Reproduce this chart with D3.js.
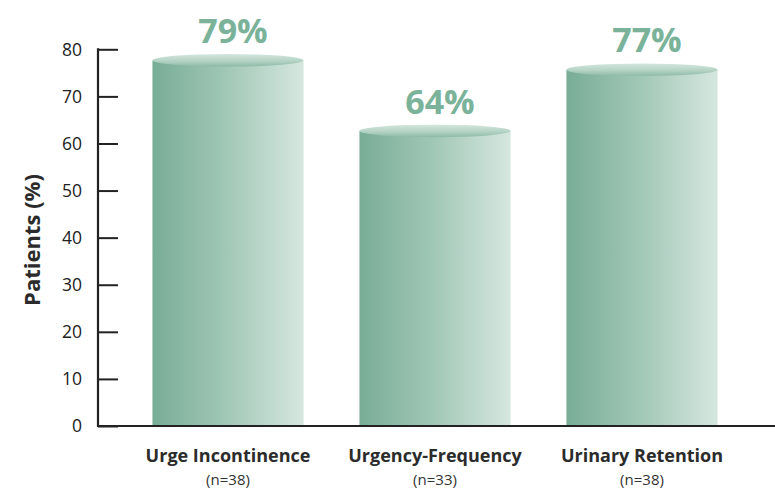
<!DOCTYPE html>
<html><head><meta charset="utf-8">
<script src="https://cdn.jsdelivr.net/npm/d3@7"></script>
<style>body{margin:0;background:#fff}svg{display:block}</style>
</head><body><div id="chart"></div>
<script>
const categories = ["Urge Incontinence", "Urgency-Frequency", "Urinary Retention"];
const sampleSizes = ["(n=38)", "(n=33)", "(n=38)"];
const values = [79, 64, 77];
const valueLabels = ["79%", "64%", "77%"];
const yTicks = [0, 10, 20, 30, 40, 50, 60, 70, 80];

const W = 775, H = 490;
const svg = d3.select("#chart").append("svg").attr("width", W).attr("height", H);
const font = "'Open Sans', 'Noto Sans', sans-serif";

const y = d3.scaleLinear().domain([0, 80]).range([426, 49.3]);
const x = d3.scaleBand().domain(categories).range([124.5, 745.5]).paddingInner(0.27).paddingOuter(0.135);
const ry = 6.3;

const defs = svg.append("defs");
const gBody = defs.append("linearGradient").attr("id", "body").attr("x1", 0).attr("x2", 1).attr("y1", 0).attr("y2", 0);
gBody.append("stop").attr("offset", 0).attr("stop-color", "#78ad96");
gBody.append("stop").attr("offset", 0.5).attr("stop-color", "#a2c8b7");
gBody.append("stop").attr("offset", 1).attr("stop-color", "#d6e7df");
const gTop = defs.append("linearGradient").attr("id", "top").attr("x1", 0).attr("x2", 0).attr("y1", 0).attr("y2", 1);
gTop.append("stop").attr("offset", 0).attr("stop-color", "#d3e6dd");
gTop.append("stop").attr("offset", 0.55).attr("stop-color", "#b5d3c5");
gTop.append("stop").attr("offset", 1).attr("stop-color", "#8dbaa6");

// bars
const bars = svg.append("g").selectAll("g").data(categories).join("g");
bars.append("rect")
  .attr("x", d => x(d)).attr("width", x.bandwidth())
  .attr("y", (d, i) => y(values[i]) + ry)
  .attr("height", (d, i) => y(0) - y(values[i]) - ry)
  .attr("fill", "url(#body)");
bars.append("ellipse")
  .attr("cx", d => x(d) + x.bandwidth() / 2).attr("rx", x.bandwidth() / 2)
  .attr("cy", (d, i) => y(values[i]) + ry).attr("ry", ry)
  .attr("fill", "url(#top)");
bars.append("text")
  .attr("x", d => x(d) + x.bandwidth() / 2 + 5)
  .attr("y", (d, i) => y(values[i]) - 11)
  .attr("text-anchor", "middle")
  .attr("font-family", font).attr("font-weight", 700).attr("font-size", 34)
  .attr("fill", "#7ab29a")
  .text((d, i) => valueLabels[i]);

// y axis
const yAxis = svg.append("g").attr("transform", "translate(98,0)")
  .call(d3.axisRight(y).tickValues(yTicks).tickSize(20).tickFormat(""));
yAxis.select(".domain").remove();
yAxis.selectAll("line").attr("stroke", "#222").attr("stroke-width", 2);
svg.append("line").attr("x1", 98).attr("x2", 98).attr("y1", y(80) - 1).attr("y2", y(0) + 1)
  .attr("stroke", "#222").attr("stroke-width", 2.2);
svg.append("g").selectAll("text").data(yTicks).join("text")
  .attr("x", 82).attr("y", d => y(d)).attr("dy", "0.36em")
  .attr("text-anchor", "end")
  .attr("font-family", font).attr("font-size", 17.5).attr("fill", "#222")
  .text(d => d);

// x axis
const xAxis = svg.append("g").attr("transform", `translate(0,${y(0)})`)
  .call(d3.axisBottom(x).tickSize(0).tickFormat(""));
xAxis.select(".domain").remove();
svg.append("line").attr("x1", 97).attr("x2", W).attr("y1", y(0)).attr("y2", y(0))
  .attr("stroke", "#222").attr("stroke-width", 2.2);

// category labels
const labs = svg.append("g").selectAll("g").data(categories).join("g")
  .attr("transform", d => `translate(${x(d) + x.bandwidth() / 2},0)`);
labs.append("text").attr("y", 462).attr("text-anchor", "middle")
  .attr("font-family", font).attr("font-weight", 700).attr("font-size", 18).attr("fill", "#2b2b2b")
  .text(d => d);
labs.append("text").attr("y", 485).attr("text-anchor", "middle")
  .attr("font-family", font).attr("font-size", 15).attr("fill", "#333")
  .text((d, i) => sampleSizes[i]);

// y title
svg.append("text").attr("transform", "translate(40,240) rotate(-90)")
  .attr("text-anchor", "middle")
  .attr("font-family", font).attr("font-weight", 700).attr("font-size", 22).attr("fill", "#2b2b2b")
  .text("Patients (%)");
</script></body></html>
